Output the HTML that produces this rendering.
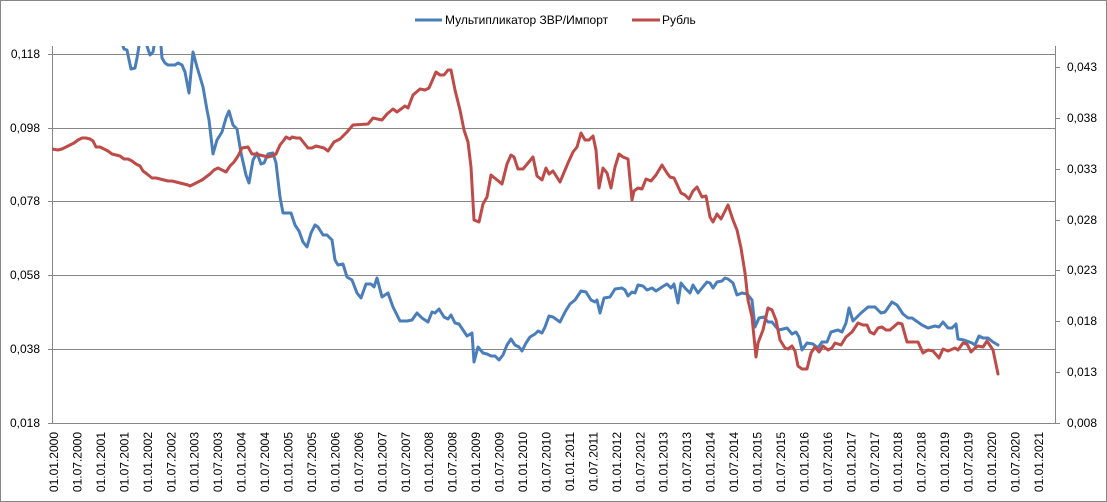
<!DOCTYPE html>
<html>
<head>
<meta charset="utf-8">
<style>
  html,body{margin:0;padding:0;background:#fff;}
  svg{display:block;}
  text{font-family:"Liberation Sans", Arial, sans-serif;font-size:12px;fill:#000;}
</style>
</head>
<body>
<svg width="1107" height="502" viewBox="0 0 1107 502" xmlns="http://www.w3.org/2000/svg">
  <rect x="0.5" y="0.5" width="1106" height="501" fill="#fff" stroke="#868686" stroke-width="1"/>

  <!-- legend -->
  <line x1="415" y1="20" x2="442" y2="20" stroke="#4A7EBB" stroke-width="3"/>
  <text x="445" y="24">Мультипликатор ЗВР/Импорт</text>
  <line x1="632" y1="20" x2="660" y2="20" stroke="#BE4B48" stroke-width="3"/>
  <text x="662" y="24">Рубль</text>

  <!-- gridlines -->
  <g stroke="#868686" stroke-width="1">
    <line x1="52" y1="54.5" x2="1055" y2="54.5"/>
    <line x1="52" y1="128.5" x2="1055" y2="128.5"/>
    <line x1="52" y1="201.5" x2="1055" y2="201.5"/>
    <line x1="52" y1="275.5" x2="1055" y2="275.5"/>
    <line x1="52" y1="349.5" x2="1055" y2="349.5"/>
    <line x1="48" y1="423.5" x2="1055" y2="423.5"/>
    <!-- left axis -->
    <line x1="52.5" y1="46" x2="52.5" y2="424"/>
    <line x1="48" y1="54.5" x2="52" y2="54.5"/>
    <line x1="48" y1="128.5" x2="52" y2="128.5"/>
    <line x1="48" y1="201.5" x2="52" y2="201.5"/>
    <line x1="48" y1="275.5" x2="52" y2="275.5"/>
    <line x1="48" y1="349.5" x2="52" y2="349.5"/>
    <!-- right axis -->
    <line x1="1055.5" y1="46" x2="1055.5" y2="424"/>
    <line x1="1055" y1="67.5" x2="1060" y2="67.5"/>
    <line x1="1055" y1="118.5" x2="1060" y2="118.5"/>
    <line x1="1055" y1="169.5" x2="1060" y2="169.5"/>
    <line x1="1055" y1="220.5" x2="1060" y2="220.5"/>
    <line x1="1055" y1="270.5" x2="1060" y2="270.5"/>
    <line x1="1055" y1="321.5" x2="1060" y2="321.5"/>
    <line x1="1055" y1="372.5" x2="1060" y2="372.5"/>
    <line x1="1055" y1="423.5" x2="1060" y2="423.5"/>
  </g>

  <!-- left labels -->
  <g text-anchor="end">
    <text x="40" y="58">0,118</text>
    <text x="40" y="132">0,098</text>
    <text x="40" y="205">0,078</text>
    <text x="40" y="279">0,058</text>
    <text x="40" y="353">0,038</text>
    <text x="40" y="427">0,018</text>
  </g>
  <!-- right labels -->
  <g>
    <text x="1067" y="71">0,043</text>
    <text x="1067" y="122">0,038</text>
    <text x="1067" y="173">0,033</text>
    <text x="1067" y="224">0,028</text>
    <text x="1067" y="274">0,023</text>
    <text x="1067" y="325">0,018</text>
    <text x="1067" y="376">0,013</text>
    <text x="1067" y="427">0,008</text>
  </g>

  <!-- x labels -->
  <g text-anchor="end">
    <text transform="translate(58,432) rotate(-90)">01.01.2000</text>
    <text transform="translate(81.5,432) rotate(-90)">01.07.2000</text>
    <text transform="translate(105,432) rotate(-90)">01.01.2001</text>
    <text transform="translate(128.4,432) rotate(-90)">01.07.2001</text>
    <text transform="translate(151.8,432) rotate(-90)">01.01.2002</text>
    <text transform="translate(175.3,432) rotate(-90)">01.07.2002</text>
    <text transform="translate(198.7,432) rotate(-90)">01.01.2003</text>
    <text transform="translate(222.2,432) rotate(-90)">01.07.2003</text>
    <text transform="translate(245.6,432) rotate(-90)">01.01.2004</text>
    <text transform="translate(269.1,432) rotate(-90)">01.07.2004</text>
    <text transform="translate(292.5,432) rotate(-90)">01.01.2005</text>
    <text transform="translate(316,432) rotate(-90)">01.07.2005</text>
    <text transform="translate(339.4,432) rotate(-90)">01.01.2006</text>
    <text transform="translate(362.9,432) rotate(-90)">01.07.2006</text>
    <text transform="translate(386.3,432) rotate(-90)">01.01.2007</text>
    <text transform="translate(409.8,432) rotate(-90)">01.07.2007</text>
    <text transform="translate(433.2,432) rotate(-90)">01.01.2008</text>
    <text transform="translate(456.7,432) rotate(-90)">01.07.2008</text>
    <text transform="translate(480.1,432) rotate(-90)">01.01.2009</text>
    <text transform="translate(503.6,432) rotate(-90)">01.07.2009</text>
    <text transform="translate(527,432) rotate(-90)">01.01.2010</text>
    <text transform="translate(550.5,432) rotate(-90)">01.07.2010</text>
    <text transform="translate(573.9,432) rotate(-90)">01.01.2011</text>
    <text transform="translate(597.4,432) rotate(-90)">01.07.2011</text>
    <text transform="translate(620.8,432) rotate(-90)">01.01.2012</text>
    <text transform="translate(644.3,432) rotate(-90)">01.07.2012</text>
    <text transform="translate(667.7,432) rotate(-90)">01.01.2013</text>
    <text transform="translate(691.2,432) rotate(-90)">01.07.2013</text>
    <text transform="translate(714.6,432) rotate(-90)">01.01.2014</text>
    <text transform="translate(738.1,432) rotate(-90)">01.07.2014</text>
    <text transform="translate(761.5,432) rotate(-90)">01.01.2015</text>
    <text transform="translate(785,432) rotate(-90)">01.07.2015</text>
    <text transform="translate(808.4,432) rotate(-90)">01.01.2016</text>
    <text transform="translate(831.9,432) rotate(-90)">01.07.2016</text>
    <text transform="translate(855.3,432) rotate(-90)">01.01.2017</text>
    <text transform="translate(878.8,432) rotate(-90)">01.07.2017</text>
    <text transform="translate(902.2,432) rotate(-90)">01.01.2018</text>
    <text transform="translate(925.7,432) rotate(-90)">01.07.2018</text>
    <text transform="translate(949.1,432) rotate(-90)">01.01.2019</text>
    <text transform="translate(972.6,432) rotate(-90)">01.07.2019</text>
    <text transform="translate(996,432) rotate(-90)">01.01.2020</text>
    <text transform="translate(1019.5,432) rotate(-90)">01.07.2020</text>
    <text transform="translate(1042.9,432) rotate(-90)">01.01.2021</text>
  </g>

  <defs>
    <clipPath id="plot"><rect x="52" y="46" width="1003" height="377"/></clipPath>
  </defs>

  <g clip-path="url(#plot)" fill="none" stroke-width="3" stroke-linejoin="round" stroke-linecap="round">
    <!-- Blue: Мультипликатор -->
    <polyline stroke="#4A7EBB" points="123,46 124,49 127,50 128,55 131,69 135,68 137,58 139,46 141,40 145,40 147,46 150,55 153,52 154,46 156,40 160,40 161,46 162,58 165,63 168,65 175,65 178,63 182,65 185,72 189,93 193,52 197,67 203,87 207,110 209,120 213,154 217,140 222,132 226,118 229,111 233,125 237,129 241,153 246,175 249,183 253,160 257,153 261,164 264,163 268,154 273,153 276,163 280,197 283,213 291,213 295,225 299,231 303,242 307,247 311,233 315,225 318,227 323,235 327,235 332,240 335,260 338,265 343,264 347,277 352,280 357,293 361,298 366,284 371,284 374,287 377,278 382,297 388,293 393,307 400,321 407,321 412,320 417,313 422,318 428,322 432,312 435,313 439,309 444,317 448,319 451,315 455,323 459,324 463,330 467,336 472,333 474,362 478,347 483,353 487,354 491,356 495,356 499,360 503,355 507,345 511,339 515,345 519,347 522,351 526,343 530,337 535,334 538,331 542,333 545,327 549,316 553,317 560,322 565,312 570,304 575,300 581,291 586,292 591,300 595,302 597,300 600,313 604,298 610,297 615,289 622,288 625,290 628,296 632,292 635,293 638,285 643,286 647,290 652,288 656,291 662,287 667,284 671,288 674,284 678,303 681,283 685,288 690,293 693,285 698,293 702,288 707,282 710,283 713,288 717,282 722,281 725,278 728,279 733,283 737,295 742,293 747,294 752,300 755,327 759,318 764,317 768,322 772,322 776,327 779,330 787,328 792,334 796,332 799,337 802,350 807,343 813,344 818,348 822,342 827,342 831,332 838,330 842,332 846,323 849,308 853,321 861,313 868,307 875,307 881,313 885,312 892,302 897,305 903,314 908,318 912,318 922,325 928,328 935,326 939,327 943,322 948,328 952,328 956,324 958,339 964,340 972,343 975,345 979,336 983,338 988,338 993,342 998,345"/>
    <!-- Red: Рубль -->
    <polyline stroke="#BE4B48" points="52,149 58,150 62,149 66,147 70,145 74,143 78,140 82,138 86,138 90,139 93,141 96,147 100,147 104,149 108,151 112,154 116,155 120,156 124,159 128,159 132,161 136,164 140,166 143,171 147,174 152,178 156,178 160,179 164,180 168,181 172,181 176,182 180,183 184,184 188,185 190,186 194,184 198,182 202,180 206,177 210,174 214,170 218,168 222,170 226,172 230,166 234,162 238,156 242,148 248,147 252,154 256,154 260,155 264,156 268,157 272,156 276,154 280,145 284,140 286,137 290,139 292,137 296,138 300,138 304,143 308,148 312,148 316,146 320,147 324,148 328,151 334,142 340,139 347,132 353,125 368,124 373,118 382,120 387,114 393,109 397,112 405,106 408,108 413,95 420,89 425,90 429,88 436,72 440,75 444,75 448,70 451,70 455,90 460,110 464,130 468,142 471,167 474,220 479,222 483,204 487,197 491,175 502,184 507,164 511,155 514,157 518,169 523,169 533,157 537,176 542,180 546,168 549,174 553,171 560,182 568,163 573,152 577,147 581,133 585,140 589,140 593,136 596,150 599,188 603,168 607,173 611,188 615,167 619,154 623,157 628,159 632,200 634,191 638,188 642,189 646,179 651,181 656,175 662,165 667,173 670,177 674,178 681,193 685,195 689,199 693,191 697,187 702,197 706,196 710,217 713,222 717,214 721,219 728,205 733,220 737,230 741,248 745,273 748,300 752,317 756,357 758,343 763,330 768,308 772,310 776,320 780,340 785,348 788,349 792,346 795,351 798,366 802,369 807,369 811,353 815,347 819,352 823,346 828,350 832,348 835,343 841,345 846,337 852,332 858,323 863,325 867,325 870,332 874,334 878,328 882,327 886,330 890,330 898,323 902,324 907,342 912,342 918,342 923,353 928,350 933,351 939,358 943,349 948,351 955,348 958,350 963,343 967,344 971,352 975,348 978,346 983,347 987,341 993,350 998,374"/>
  </g>
</svg>
</body>
</html>
